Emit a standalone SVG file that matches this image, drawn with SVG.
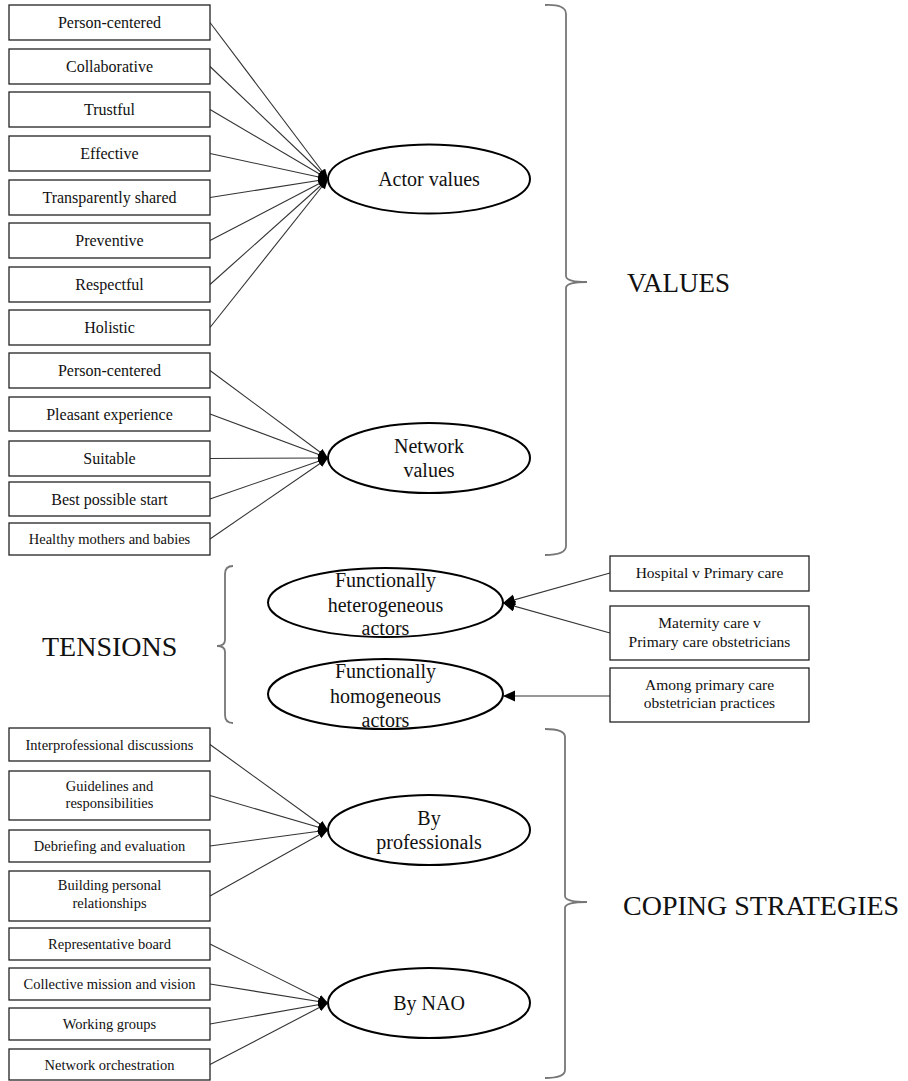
<svg xmlns="http://www.w3.org/2000/svg" width="908" height="1081" viewBox="0 0 908 1081">
<style>
.box{fill:#fff;stroke:#222;stroke-width:1.3}
.ell{fill:#fff;stroke:#000;stroke-width:2}
.t{font-family:"Liberation Serif","Times New Roman",serif;fill:#111;text-anchor:middle}
.b16{font-size:16px}
.b14{font-size:14.5px}
.b15{font-size:15.5px}
.e20{font-size:20px}
.big{font-family:"Liberation Serif","Times New Roman",serif;font-size:28px;fill:#111}
.ln{stroke:#333;stroke-width:1.1;fill:none;marker-end:url(#ah)}
.ln2{stroke:#333;stroke-width:1.2;fill:none;marker-end:url(#ah2)}
.brace{stroke:#777;stroke-width:1.8;fill:none}
</style>
<defs>
<marker id="ah" markerUnits="userSpaceOnUse" markerWidth="12" markerHeight="10" refX="10" refY="4" orient="auto">
<path d="M0,0 L10,4 L0,8 z" fill="#000"/>
</marker>
<marker id="ah2" markerUnits="userSpaceOnUse" markerWidth="14" markerHeight="12" refX="12" refY="5.5" orient="auto">
<path d="M0,0 L12,5.5 L0,11 z" fill="#000"/>
</marker>
</defs>
<rect width="908" height="1081" fill="#fff"/>

<g id="connectors">
<line class="ln" x1="210" y1="22.5" x2="328" y2="179"/>
<line class="ln" x1="210" y1="66.5" x2="328" y2="179"/>
<line class="ln" x1="210" y1="109.5" x2="328" y2="179"/>
<line class="ln" x1="210" y1="153.5" x2="328" y2="179"/>
<line class="ln" x1="210" y1="197.5" x2="328" y2="179"/>
<line class="ln" x1="210" y1="240.5" x2="328" y2="179"/>
<line class="ln" x1="210" y1="284.5" x2="328" y2="179"/>
<line class="ln" x1="210" y1="327.5" x2="328" y2="179"/>
<line class="ln" x1="210" y1="370.5" x2="328" y2="458"/>
<line class="ln" x1="210" y1="414" x2="328" y2="458"/>
<line class="ln" x1="210" y1="458.5" x2="328" y2="458"/>
<line class="ln" x1="210" y1="499" x2="328" y2="458"/>
<line class="ln" x1="210" y1="539" x2="328" y2="458"/>
<line class="ln2" x1="610" y1="573" x2="503" y2="603"/>
<line class="ln2" x1="610" y1="633" x2="503" y2="603"/>
<line class="ln2" x1="610" y1="696" x2="503" y2="696"/>
<line class="ln" x1="210" y1="744.5" x2="328" y2="830"/>
<line class="ln" x1="210" y1="795.5" x2="328" y2="830"/>
<line class="ln" x1="210" y1="846" x2="328" y2="830"/>
<line class="ln" x1="210" y1="896" x2="328" y2="830"/>
<line class="ln" x1="210" y1="944" x2="328" y2="1003"/>
<line class="ln" x1="210" y1="984" x2="328" y2="1003"/>
<line class="ln" x1="210" y1="1024" x2="328" y2="1003"/>
<line class="ln" x1="210" y1="1064.5" x2="328" y2="1003"/>
</g>

<g id="a1"><rect class="box" x="9" y="5" width="201" height="35"/><text class="t b16" x="109.5" y="28">Person-centered</text></g>
<g id="a2"><rect class="box" x="9" y="49" width="201" height="35"/><text class="t b16" x="109.5" y="72">Collaborative</text></g>
<g id="a3"><rect class="box" x="9" y="92" width="201" height="35"/><text class="t b16" x="109.5" y="115">Trustful</text></g>
<g id="a4"><rect class="box" x="9" y="136" width="201" height="35"/><text class="t b16" x="109.5" y="159">Effective</text></g>
<g id="a5"><rect class="box" x="9" y="180" width="201" height="35"/><text class="t b16" x="109.5" y="203">Transparently shared</text></g>
<g id="a6"><rect class="box" x="9" y="223" width="201" height="35"/><text class="t b16" x="109.5" y="246">Preventive</text></g>
<g id="a7"><rect class="box" x="9" y="267" width="201" height="35"/><text class="t b16" x="109.5" y="290">Respectful</text></g>
<g id="a8"><rect class="box" x="9" y="310" width="201" height="35"/><text class="t b16" x="109.5" y="333">Holistic</text></g>

<g id="n1"><rect class="box" x="9" y="353" width="201" height="35"/><text class="t b16" x="109.5" y="376">Person-centered</text></g>
<g id="n2"><rect class="box" x="9" y="397" width="201" height="34"/><text class="t b16" x="109.5" y="419.5">Pleasant experience</text></g>
<g id="n3"><rect class="box" x="9" y="441" width="201" height="35"/><text class="t b16" x="109.5" y="464">Suitable</text></g>
<g id="n4"><rect class="box" x="9" y="482" width="201" height="34"/><text class="t b16" x="109.5" y="504.5">Best possible start</text></g>
<g id="n5"><rect class="box" x="9" y="523" width="201" height="32"/><text class="t b14" x="109.5" y="544">Healthy mothers and babies</text></g>

<g id="actor-values"><ellipse class="ell" cx="429" cy="179" rx="101" ry="34.5"/><text class="t e20" x="429" y="186">Actor values</text></g>
<g id="network-values"><ellipse class="ell" cx="429" cy="458" rx="101" ry="35"/><text class="t e20" x="429" y="453">Network</text><text class="t e20" x="429" y="477">values</text></g>

<g id="values-brace"><path class="brace" d="M545,5 Q566,4 566,14 V276 Q566,282 587,282 Q566,282 566,288 V546 Q566,555 545,555"/><text class="big" x="627" y="292" style="font-size:27px">VALUES</text></g>

<g id="tensions-brace"><path class="brace" d="M233,566 Q225,566 225,574 V640 Q225,646 217,646 Q225,646 225,652 V715 Q225,723 233,723"/><text class="big" x="42" y="656">TENSIONS</text></g>

<g id="hetero"><ellipse class="ell" cx="385.5" cy="602.5" rx="117.5" ry="34.5"/><text class="t e20" x="385.5" y="587">Functionally</text><text class="t e20" x="385.5" y="612">heterogeneous</text><text class="t e20" x="385.5" y="635">actors</text></g>
<g id="homo"><ellipse class="ell" cx="385.5" cy="694" rx="117.5" ry="35"/><text class="t e20" x="385.5" y="678">Functionally</text><text class="t e20" x="385.5" y="703">homogeneous</text><text class="t e20" x="385.5" y="727">actors</text></g>

<g id="t1"><rect class="box" x="610" y="556" width="199" height="35"/><text class="t b15" x="709.5" y="578">Hospital v Primary care</text></g>
<g id="t2"><rect class="box" x="610" y="606" width="199" height="54"/><text class="t b15" x="709.5" y="628">Maternity care v</text><text class="t b15" x="709.5" y="647">Primary care obstetricians</text></g>
<g id="t3"><rect class="box" x="610" y="668" width="199" height="54"/><text class="t b15" x="709.5" y="690">Among primary care</text><text class="t b15" x="709.5" y="708">obstetrician practices</text></g>

<g id="c1"><rect class="box" x="9" y="728" width="201" height="33"/><text class="t b14" x="109.5" y="749.5">Interprofessional discussions</text></g>
<g id="c2"><rect class="box" x="9" y="771" width="201" height="49"/><text class="t b14" x="109.5" y="791">Guidelines and</text><text class="t b14" x="109.5" y="808">responsibilities</text></g>
<g id="c3"><rect class="box" x="9" y="830" width="201" height="32"/><text class="t b14" x="109.5" y="851">Debriefing and evaluation</text></g>
<g id="c4"><rect class="box" x="9" y="871" width="201" height="50"/><text class="t b14" x="109.5" y="890">Building personal</text><text class="t b14" x="109.5" y="908">relationships</text></g>
<g id="c5"><rect class="box" x="9" y="928" width="201" height="32"/><text class="t b14" x="109.5" y="949">Representative board</text></g>
<g id="c6"><rect class="box" x="9" y="968" width="201" height="32"/><text class="t b14" x="109.5" y="989">Collective mission and vision</text></g>
<g id="c7"><rect class="box" x="9" y="1008" width="201" height="32"/><text class="t b14" x="109.5" y="1029">Working groups</text></g>
<g id="c8"><rect class="box" x="9" y="1049" width="201" height="31"/><text class="t b14" x="109.5" y="1069.5">Network orchestration</text></g>

<g id="by-professionals"><ellipse class="ell" cx="429" cy="830" rx="101" ry="35"/><text class="t e20" x="429" y="825">By</text><text class="t e20" x="429" y="849">professionals</text></g>
<g id="by-nao"><ellipse class="ell" cx="429" cy="1003" rx="101" ry="35"/><text class="t e20" x="429" y="1010">By NAO</text></g>

<g id="coping-brace"><path class="brace" d="M545,729 Q565,729 565,737 V896 Q565,902 587,902 Q565,902 565,908 V1070 Q565,1078 545,1078"/><text class="big" x="623" y="915">COPING STRATEGIES</text></g>
</svg>
